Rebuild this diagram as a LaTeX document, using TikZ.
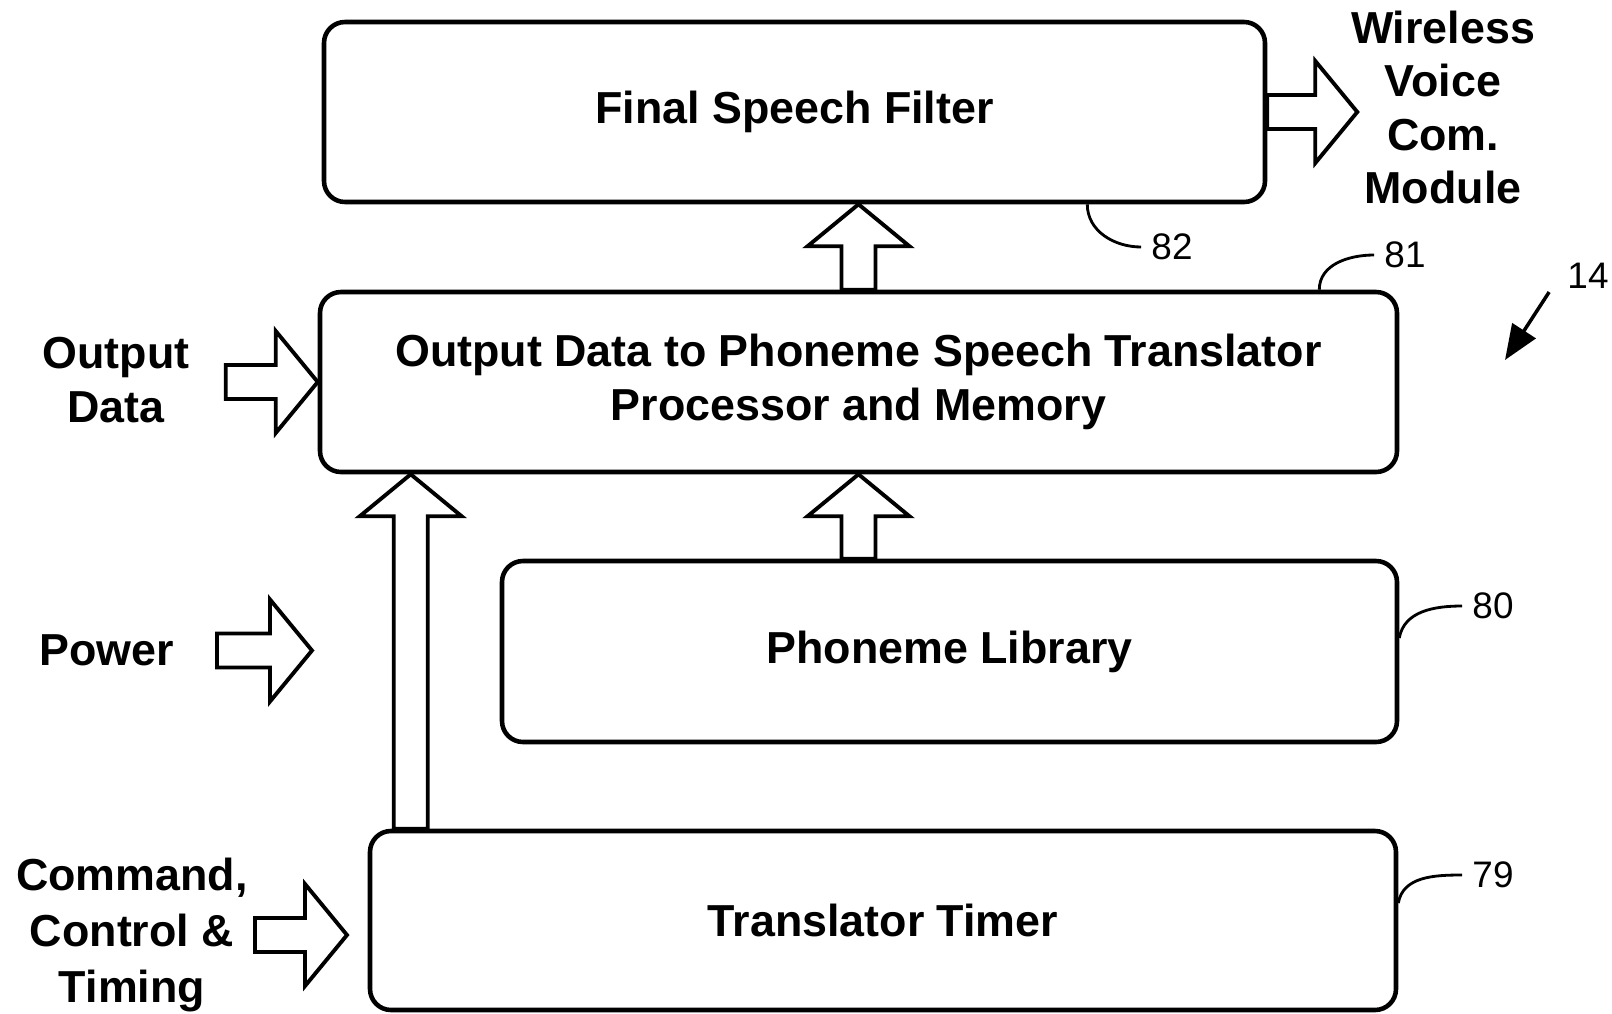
\documentclass[tikz,border=0pt]{standalone}
\usepackage{fontspec}
\setmainfont{Liberation Sans}
\usetikzlibrary{positioning,calc,arrows.meta}

% block arrow sizes
\newcommand{\arrshaft}{0.34cm}
\newcommand{\arrhead}{1.02cm}
\newcommand{\arrlen}{0.84cm}

\tikzset{
  block/.style={rectangle, draw, rounded corners=0.42cm, line width=2.6pt,
    font=\bfseries\fontsize{25.5}{30.5}\selectfont, align=center, minimum height=3.6cm},
  tag/.style={font=\bfseries\fontsize{25.5}{30.5}\selectfont, align=center, inner sep=0pt},
  refnum/.style={font=\fontsize{21}{25}\selectfont, inner sep=0.2cm},
  leader/.style={line width=1.6pt},
  fatarrow/.style={draw, line width=2.2pt, fill=white, line join=miter,
    to path={
      ($(\tikztostart)!\arrshaft!90:(\tikztotarget)$)
      -- ($(\tikztotarget)!\arrlen!(\tikztostart)!\arrshaft!90:(\tikztotarget)$)
      -- ($(\tikztotarget)!\arrlen!(\tikztostart)!\arrhead!90:(\tikztotarget)$)
      -- (\tikztotarget)
      -- ($(\tikztotarget)!\arrlen!(\tikztostart)!\arrhead!-90:(\tikztotarget)$)
      -- ($(\tikztotarget)!\arrlen!(\tikztostart)!\arrshaft!-90:(\tikztotarget)$)
      -- ($(\tikztostart)!\arrshaft!-90:(\tikztotarget)$)
      -- cycle}}
}

\begin{document}
\begin{tikzpicture}
    \useasboundingbox (0,0) rectangle (32.24,-20.26);

    % Blocks
    \node [block, minimum width=18.82cm] (final) at (15.89,-2.24) {Final Speech Filter};
    \node [block, minimum width=21.54cm] (outproc) at (17.17,-7.64) {Output Data to Phoneme Speech Translator\\Processor and Memory};
    \node [block, minimum width=17.90cm, minimum height=3.62cm] (phonlib) at (18.99,-13.03) {Phoneme Library};
    \node [block, minimum width=20.52cm, minimum height=3.58cm] (timer) at (17.66,-18.41) {Translator Timer};

    % Outside labels
    \node [tag] (wireless) at (28.86,-2.15) {Wireless\\Voice\\Com.\\Module};
    \node [tag] (outdata) at (2.32,-7.60) {Output\\Data};
    \node [tag] (power) at (2.13,-13.01) {Power};
    \node [tag, font=\bfseries\fontsize{25.5}{31.9}\selectfont] (command) at (2.64,-18.70) {Command,\\Control \&\\Timing};

    % Reference numerals
    \node [refnum] (n82) at (23.44,-4.94) {82};
    \node [refnum] (n81) at (28.10,-5.10) {81};
    \node [refnum] (n80) at (29.86,-12.12) {80};
    \node [refnum] (n79) at (29.86,-17.50) {79};
    \node [refnum] (n14) at (31.76,-5.52) {14};

    % Connections
    \coordinate [left=1.84cm of outproc.west] (odin);
    \draw [fatarrow] (odin) to (outproc.west);
    \coordinate (pwtip) at (6.24,-13.01);
    \coordinate [left=1.90cm of pwtip] (pwin);
    \draw [fatarrow] (pwin) to (pwtip);
    \coordinate (cmtip) at (6.94,-18.70);
    \coordinate [left=1.84cm of cmtip] (cmin);
    \draw [fatarrow] (cmin) to (cmtip);
    \draw [fatarrow] (final.east) to ([xshift=1.8cm]final.east);
    \draw [fatarrow] (outproc.north) to (outproc.north |- final.south);
    \draw [fatarrow] (phonlib.north -| outproc.north) to (outproc.south);
    \coordinate [right=0.86cm of timer.north west] (tup);
    \draw [fatarrow] (tup) to (tup |- outproc.south);

    % Leaders
    \draw [leader] ([xshift=-3.6cm]final.south east) to[out=-90,in=180] (n82.west);
    \draw [leader] ([xshift=-1.6cm]outproc.north east) to[out=90,in=180] (n81.west);
    \draw [leader] ([yshift=0.27cm]phonlib.east) to[out=80,in=180] (n80.west);
    \draw [leader] ([yshift=0.35cm]timer.east) to[out=80,in=180] (n79.west);
    \coordinate (p14) at (30.10,-7.20);
    \draw [line width=2pt, -{Triangle[length=0.7cm,width=0.55cm]}] ([shift={(-0.16,0.14)}]n14.south west) -- (p14);
\end{tikzpicture}
\end{document}
